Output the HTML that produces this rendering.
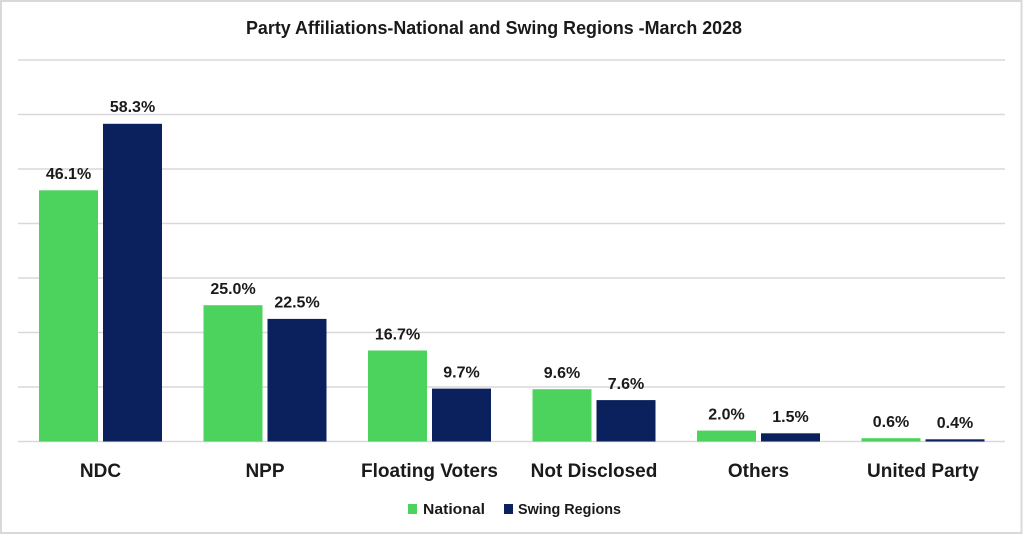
<!DOCTYPE html>
<html>
<head>
<meta charset="utf-8">
<style>
html,body{margin:0;padding:0;background:#fff;}
body{width:1024px;height:535px;overflow:hidden;}
svg{display:block;font-family:"Liberation Sans",Arial,sans-serif;}
</style>
</head>
<body>
<svg width="1024" height="535" viewBox="0 0 1024 535" xmlns="http://www.w3.org/2000/svg">
  <rect x="0" y="0" width="1024" height="535" fill="#fff"/>
  <rect x="1" y="1" width="1020.5" height="532" fill="none" stroke="#d9d9d9" stroke-width="2"/>

  <text x="494" y="34" text-anchor="middle" font-size="18" font-weight="bold" fill="#1a1a1a" textLength="496" lengthAdjust="spacingAndGlyphs">Party Affiliations-National  and Swing Regions -March 2028</text>

  <g stroke="#d9d9d9" stroke-width="1.5">
    <line x1="18" y1="60" x2="1005" y2="60"/>
    <line x1="18" y1="114.5" x2="1005" y2="114.5"/>
    <line x1="18" y1="169" x2="1005" y2="169"/>
    <line x1="18" y1="223.5" x2="1005" y2="223.5"/>
    <line x1="18" y1="278" x2="1005" y2="278"/>
    <line x1="18" y1="332.5" x2="1005" y2="332.5"/>
    <line x1="18" y1="387" x2="1005" y2="387"/>
    <line x1="18" y1="441.5" x2="1005" y2="441.5"/>
  </g>

  <!-- bars -->
  <g fill="#4cd35e">
    <rect x="39" y="190.3" width="59" height="251.2"/>
    <rect x="203.5" y="305.2" width="59" height="136.3"/>
    <rect x="368" y="350.5" width="59" height="91"/>
    <rect x="532.5" y="389.2" width="59" height="52.3"/>
    <rect x="697" y="430.6" width="59" height="10.9"/>
    <rect x="861.5" y="438.2" width="59" height="3.3"/>
  </g>
  <g fill="#0b215e">
    <rect x="103" y="123.8" width="59" height="317.7"/>
    <rect x="267.5" y="318.9" width="59" height="122.6"/>
    <rect x="432" y="388.6" width="59" height="52.9"/>
    <rect x="596.5" y="400.1" width="59" height="41.4"/>
    <rect x="761" y="433.3" width="59" height="8.2"/>
    <rect x="925.5" y="439.3" width="59" height="2.2"/>
  </g>

  <!-- data labels -->
  <g font-size="16" font-weight="bold" fill="#1a1a1a" text-anchor="middle">
    <text x="68.5" y="179">46.1%</text>
    <text x="132.5" y="112">58.3%</text>
    <text x="233" y="294">25.0%</text>
    <text x="297" y="307.5">22.5%</text>
    <text x="397.5" y="339.5">16.7%</text>
    <text x="461.5" y="377.5">9.7%</text>
    <text x="562" y="378">9.6%</text>
    <text x="626" y="389">7.6%</text>
    <text x="726.5" y="419.5">2.0%</text>
    <text x="790.5" y="422">1.5%</text>
    <text x="891" y="427">0.6%</text>
    <text x="955" y="428">0.4%</text>
  </g>

  <!-- category labels -->
  <g font-size="19" font-weight="bold" fill="#1a1a1a" text-anchor="middle">
    <text x="100.5" y="477">NDC</text>
    <text x="265" y="477">NPP</text>
    <text x="429.5" y="477">Floating Voters</text>
    <text x="594" y="477">Not Disclosed</text>
    <text x="758.5" y="477">Others</text>
    <text x="923" y="477">United Party</text>
  </g>

  <!-- legend -->
  <rect x="408" y="504" width="9" height="10" fill="#4cd35e"/>
  <text x="423" y="514" font-size="15" font-weight="bold" fill="#1a1a1a" textLength="62" lengthAdjust="spacingAndGlyphs">National</text>
  <rect x="504" y="504" width="9" height="10" fill="#0b215e"/>
  <text x="518" y="514" font-size="15" font-weight="bold" fill="#1a1a1a" textLength="103" lengthAdjust="spacingAndGlyphs">Swing Regions</text>
</svg>
</body>
</html>
